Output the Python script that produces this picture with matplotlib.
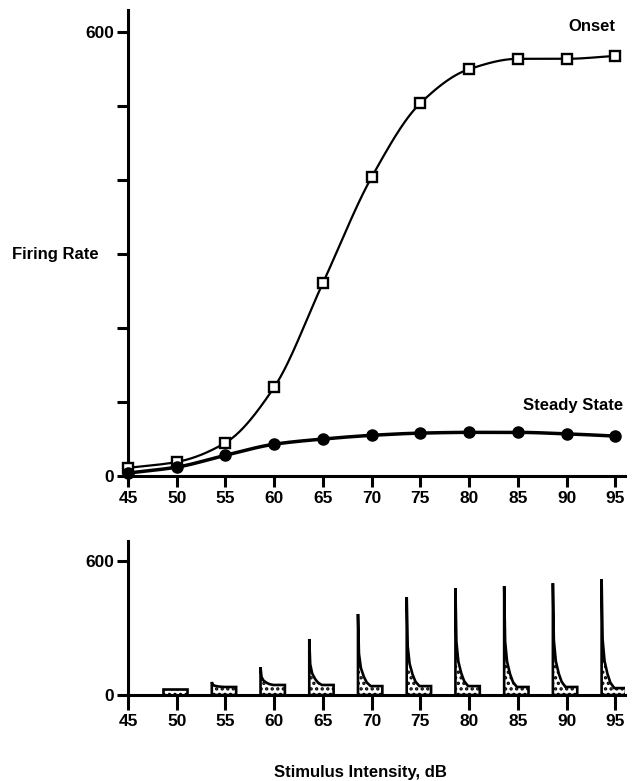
import numpy as np
import matplotlib
matplotlib.use("Agg")
import matplotlib.pyplot as plt

plt.rcParams['font.family'] = ['Liberation Sans', 'DejaVu Sans']
plt.rcParams['font.weight'] = 'bold'
plt.rcParams['hatch.linewidth'] = 1.6

# firing rate vs. stimulus intensity
intensity = [45, 50, 55, 60, 65, 70, 75, 80, 85, 90, 95]
onset_rate = [11, 19, 45, 120, 261, 404, 504, 550, 564, 564, 568]
steady_rate = [4, 12, 28, 43, 50, 55, 58, 59, 59, 57, 54]

# per-intensity histograms (lower panel)
burst_db = [50, 55, 60, 65, 70, 75, 80, 85, 90, 95]
burst_peak = [25, 58, 125, 251, 363, 439, 479, 488, 501, 519]
burst_plateau = [25, 36, 45, 45, 40, 40, 40, 36, 36, 31]
# shape of the onset transient: time after burst start (dB units) and
# fraction of the peak excess above the plateau
decay_t = [0.0, 0.1, 0.3, 0.6, 0.9, 1.3]
decay_frac = [1.0, 0.45, 0.25, 0.13, 0.05, 0.0]
burst_start = -1.4
burst_len = 2.5

xticks = [45, 50, 55, 60, 65, 70, 75, 80, 85, 90, 95]


def smooth(x, y, xs):
    # monotone piecewise cubic through the points
    x = np.asarray(x, float)
    y = np.asarray(y, float)
    h = np.diff(x)
    d = np.diff(y) / h
    m = np.zeros_like(y)
    m[0], m[-1] = d[0], d[-1]
    for k in range(1, len(x) - 1):
        if d[k - 1] * d[k] > 0:
            w1 = 2 * h[k] + h[k - 1]
            w2 = h[k] + 2 * h[k - 1]
            m[k] = (w1 + w2) / (w1 / d[k - 1] + w2 / d[k])
    i = np.clip(np.searchsorted(x, xs) - 1, 0, len(h) - 1)
    t = (xs - x[i]) / h[i]
    return ((2 * t**3 - 3 * t**2 + 1) * y[i] + (t**3 - 2 * t**2 + t) * h[i] * m[i]
            + (-2 * t**3 + 3 * t**2) * y[i + 1] + (t**3 - t**2) * h[i] * m[i + 1])


fig = plt.figure(figsize=(6.37, 7.81), dpi=100)
ax = fig.add_axes([128 / 637, 0.3905, 497 / 637, 0.5967])
ax2 = fig.add_axes([128 / 637, 0.1101, 497 / 637, 0.1972])

xs = np.linspace(45, 95, 400)
ax.plot(xs, smooth(intensity, onset_rate, xs), color='black', lw=1.6, clip_on=False)
ax.plot(intensity, onset_rate, 's', ms=7, mfc='white', mec='black', mew=1.7,
        clip_on=False, zorder=5)
ax.plot(xs, smooth(intensity, steady_rate, xs), color='black', lw=2.5, clip_on=False)
ax.plot(intensity, steady_rate, 'o', ms=8, color='black', clip_on=False, zorder=5)

ax.text(95, 608, 'Onset', ha='right', va='center', fontsize=12)
ax.text(95.8, 96, 'Steady State', ha='right', va='center', fontsize=12)
ax.text(-0.06, 300, 'Firing Rate', transform=ax.get_yaxis_transform(),
        ha='right', va='center', fontsize=12)

ax.set_xlim(45, 96)
ax.set_ylim(0, 630)
ax.set_yticks([0, 100, 200, 300, 400, 500, 600])
ax.set_yticklabels(['0', '', '', '', '', '', '600'])

# lower panel: stippled rate histograms
for db, pk, pl in zip(burst_db, burst_peak, burst_plateau):
    x0 = db + burst_start
    px = [x0, x0] + [x0 + t for t in decay_t] + [x0 + burst_len, x0 + burst_len]
    py = [0, pk] + [pl + f * (pk - pl) for f in decay_frac] + [pl, 0]
    ax2.fill(px, py, facecolor='white', edgecolor='black', lw=1.9, hatch='...')

ax2.set_xlim(45, 96)
ax2.set_ylim(0, 690)
ax2.set_yticks([0, 600])
ax2.set_yticklabels(['0', '600'])

for a, xlen in ((ax, 8), (ax2, 11)):
    a.spines['top'].set_visible(False)
    a.spines['right'].set_visible(False)
    a.spines['left'].set_linewidth(2.2)
    a.spines['bottom'].set_linewidth(2.2)
    a.set_xticks(xticks)
    a.tick_params(axis='x', length=xlen, width=2.2, labelsize=12.5, pad=3)
    a.tick_params(axis='y', length=8, width=2.2, labelsize=12.5, pad=2)
    for lab in a.get_xticklabels() + a.get_yticklabels():
        lab.set_fontweight('bold')

fig.text(360 / 637, 9 / 781, 'Stimulus Intensity, dB', ha='center', va='center',
         fontsize=12)

fig.savefig('out.png', dpi=100)
